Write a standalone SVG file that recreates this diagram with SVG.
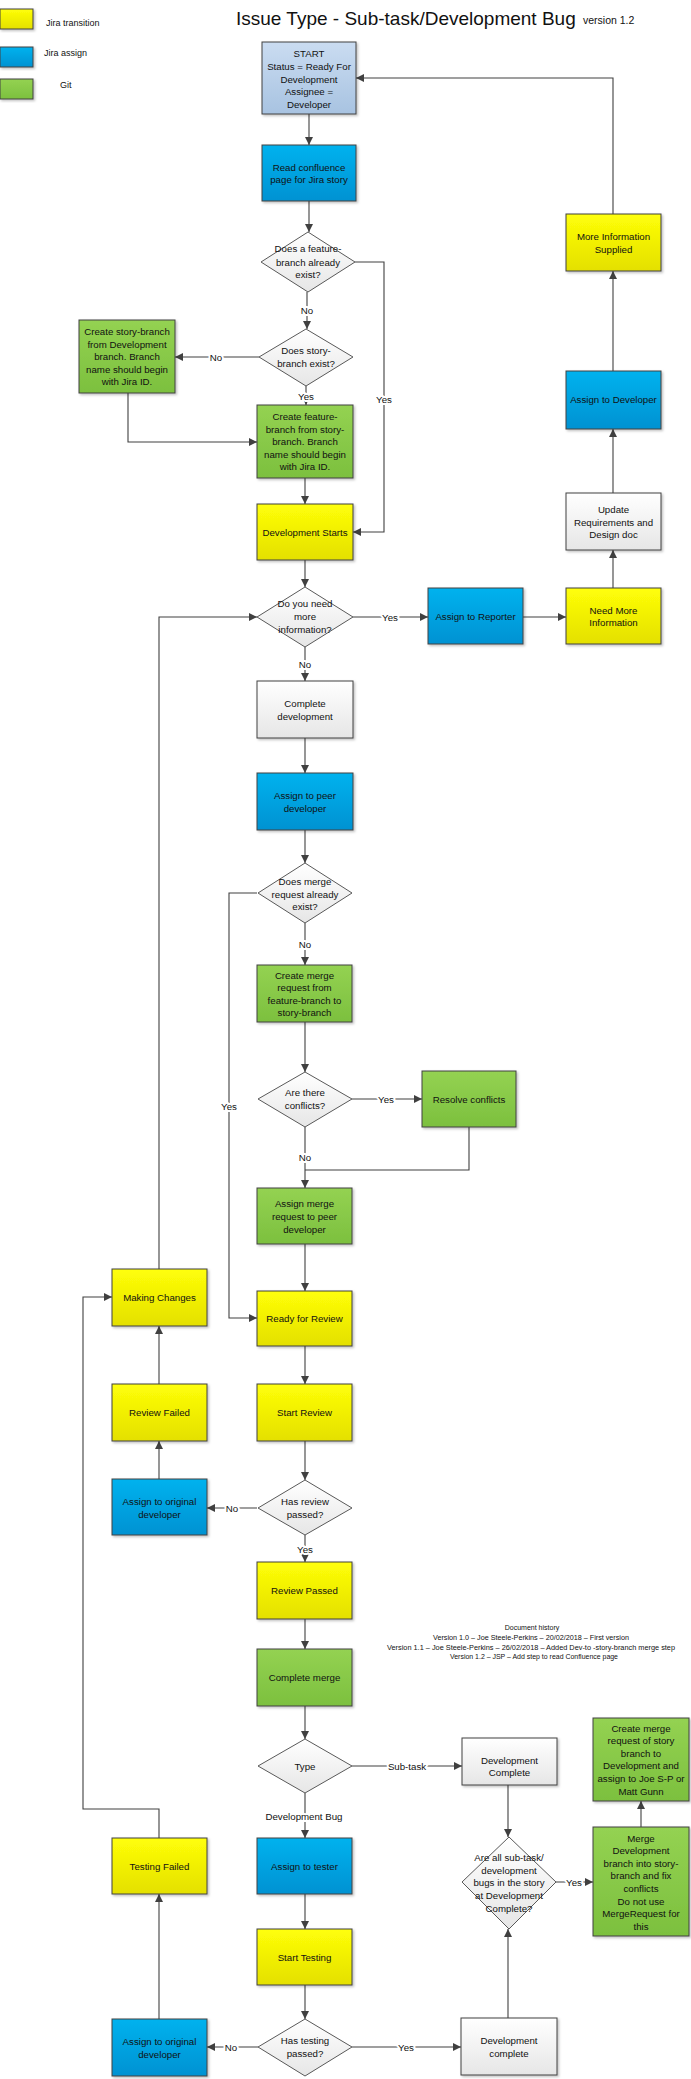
<svg xmlns="http://www.w3.org/2000/svg" width="691" height="2079" viewBox="0 0 691 2079">
<style>
text{font-family:"Liberation Sans",Arial,sans-serif;fill:#111}
.t{font-size:9.7px;text-anchor:middle;dominant-baseline:central}
.lbl{font-size:9.7px;text-anchor:middle;dominant-baseline:central;stroke:#fff;stroke-width:4px;paint-order:stroke;stroke-linejoin:round}
.box{stroke:#404040;stroke-width:1;filter:url(#sh)}
.dia{stroke:#595959;stroke-width:1;fill:url(#gW)}
.y{fill:url(#gY)}.b{fill:url(#gB)}.g{fill:url(#gG)}.w{fill:url(#gW)}.s{fill:url(#gS)}
.c{fill:none;stroke:#404040;stroke-width:1.1}
.a{marker-end:url(#ah)}
.leg{font-size:9px;dominant-baseline:central}
.hist{font-size:7px;text-anchor:middle;dominant-baseline:central}
</style>
<defs>
<linearGradient id="gY" x1="0" y1="0" x2="0" y2="1"><stop offset="0" stop-color="#ffff08"/><stop offset="1" stop-color="#e4e000"/></linearGradient>
<linearGradient id="gB" x1="0" y1="0" x2="0" y2="1"><stop offset="0" stop-color="#00b2ee"/><stop offset="1" stop-color="#0092d2"/></linearGradient>
<linearGradient id="gG" x1="0" y1="0" x2="0" y2="1"><stop offset="0" stop-color="#94d252"/><stop offset="1" stop-color="#7cc03e"/></linearGradient>
<linearGradient id="gW" x1="0" y1="0" x2="0" y2="1"><stop offset="0" stop-color="#ffffff"/><stop offset="1" stop-color="#e6e6e6"/></linearGradient>
<linearGradient id="gS" x1="0" y1="0" x2="0" y2="1"><stop offset="0" stop-color="#cadcf1"/><stop offset="1" stop-color="#a8c3e1"/></linearGradient>
<filter id="sh" x="-10%" y="-10%" width="130%" height="130%"><feDropShadow dx="1.5" dy="1.5" stdDeviation="0.8" flood-color="#000" flood-opacity="0.25"/></filter>
<marker id="ah" viewBox="0 0 10 10" refX="10" refY="5" markerWidth="9" markerHeight="8" markerUnits="userSpaceOnUse" orient="auto"><path d="M0,0 L10,5 L0,10 Z" fill="#404040"/></marker>
</defs>

<g id="legend">
<rect class="box y" x="0" y="9" width="33" height="20"/>
<text class="leg" x="46" y="23">Jira transition</text>
<rect class="box b" x="0" y="47" width="33" height="20"/>
<text class="leg" x="44" y="53">Jira assign</text>
<rect class="box g" x="0" y="79" width="33" height="20"/>
<text class="leg" x="60" y="85">Git</text>
</g>
<g id="title">
<text x="236" y="25" font-size="19" fill="#222">Issue Type - Sub-task/Development Bug</text>
<text x="583" y="24" font-size="10.5" fill="#222">version 1.2</text>
</g>

<g id="connectors">
<path class="c a" d="M309,114 V145"/>
<path class="c a" d="M309,201 V232"/>
<path class="c a" d="M307,292 V329"/>
<path class="c a" d="M355,262 H384 V532 H353"/>
<path class="c a" d="M259,357 H175"/>
<path class="c a" d="M128,393 V442 H257"/>
<path class="c a" d="M306,386 V405"/>
<path class="c a" d="M305,478 V504"/>
<path class="c a" d="M305,560 V587"/>
<path class="c a" d="M353,617 H428"/>
<path class="c a" d="M523,617 H566"/>
<path class="c a" d="M613,588 V550"/>
<path class="c a" d="M613,493 V429"/>
<path class="c a" d="M613,371 V271"/>
<path class="c a" d="M613,214 V78 H356"/>
<path class="c a" d="M159,1269 V617 H257"/>
<path class="c a" d="M305,647 V681"/>
<path class="c a" d="M305,738 V773"/>
<path class="c a" d="M305,830 V863"/>
<path class="c a" d="M257,893 H229 V1318 H257"/>
<path class="c a" d="M305,923 V965"/>
<path class="c a" d="M305,1022 V1072"/>
<path class="c a" d="M352,1099 H422"/>
<path class="c" d="M469,1127 V1170 H305"/>
<path class="c a" d="M305,1127 V1188"/>
<path class="c a" d="M305,1244 V1291"/>
<path class="c a" d="M305,1346 V1384"/>
<path class="c a" d="M305,1441 V1480"/>
<path class="c a" d="M257,1508 H207"/>
<path class="c a" d="M159,1479 V1441"/>
<path class="c a" d="M159,1384 V1326"/>
<path class="c a" d="M305,1535 V1562"/>
<path class="c a" d="M305,1619 V1649"/>
<path class="c a" d="M305,1706 V1739"/>
<path class="c a" d="M352,1766 H462"/>
<path class="c a" d="M508,1785 V1837"/>
<path class="c a" d="M556,1882 H593"/>
<path class="c a" d="M641,1827 V1801"/>
<path class="c a" d="M305,1793 V1838"/>
<path class="c a" d="M305,1894 V1929"/>
<path class="c a" d="M305,1985 V2019"/>
<path class="c a" d="M258,2047 H207"/>
<path class="c a" d="M159,2019 V1894"/>
<path class="c a" d="M159,1838 V1809 H83 V1297 H112"/>
<path class="c a" d="M352,2047 H461"/>
<path class="c a" d="M508,2018 V1929"/>
<text class="lbl" x="307" y="310">No</text>
<text class="lbl" x="384" y="399">Yes</text>
<text class="lbl" x="216" y="357">No</text>
<text class="lbl" x="306" y="396">Yes</text>
<text class="lbl" x="390" y="617">Yes</text>
<text class="lbl" x="305" y="664">No</text>
<text class="lbl" x="229" y="1106">Yes</text>
<text class="lbl" x="305" y="944">No</text>
<text class="lbl" x="386" y="1099">Yes</text>
<text class="lbl" x="305" y="1157">No</text>
<text class="lbl" x="232" y="1508">No</text>
<text class="lbl" x="305" y="1549">Yes</text>
<text class="lbl" x="407" y="1766">Sub-task</text>
<text class="lbl" x="304" y="1816">Development Bug</text>
<text class="lbl" x="574" y="1882">Yes</text>
<text class="lbl" x="231" y="2047">No</text>
<text class="lbl" x="406" y="2047">Yes</text>
</g>

<g id="start"><rect class="box s" x="262" y="42" width="94" height="72"/>
<text class="t"><tspan x="309" y="53">START</tspan><tspan x="309" y="65.7">Status = Ready For</tspan><tspan x="309" y="78.5">Development</tspan><tspan x="309" y="91.3">Assignee =</tspan><tspan x="309" y="104">Developer</tspan></text></g>

<g id="read-confluence"><rect class="box b" x="262" y="145" width="94" height="56"/>
<text class="t"><tspan x="309" y="166.5">Read confluence</tspan><tspan x="309" y="179.2">page for Jira story</tspan></text></g>

<g id="feature-exists"><path class="dia" d="M308,232 L355,262 L308,292 L261,262 Z"/>
<text class="t"><tspan x="308" y="248">Does a feature-</tspan><tspan x="308" y="261.5">branch already</tspan><tspan x="308" y="274">exist?</tspan></text></g>

<g id="story-exists"><path class="dia" d="M306,329 L353,357 L306,386 L259,357 Z"/>
<text class="t"><tspan x="306" y="350">Does story-</tspan><tspan x="306" y="363">branch exist?</tspan></text></g>

<g id="create-story-branch"><rect class="box g" x="79" y="320" width="96" height="73"/>
<text class="t"><tspan x="127" y="331">Create story-branch</tspan><tspan x="127" y="343.6">from Development</tspan><tspan x="127" y="356.2">branch. Branch</tspan><tspan x="127" y="368.8">name should begin</tspan><tspan x="127" y="381.4">with Jira ID.</tspan></text></g>

<g id="create-feature-branch"><rect class="box g" x="257" y="405" width="96" height="73"/>
<text class="t"><tspan x="305" y="416">Create feature-</tspan><tspan x="305" y="428.6">branch from story-</tspan><tspan x="305" y="441.2">branch. Branch</tspan><tspan x="305" y="453.8">name should begin</tspan><tspan x="305" y="466.4">with Jira ID.</tspan></text></g>

<g id="development-starts"><rect class="box y" x="257" y="504" width="96" height="56"/>
<text class="t" x="305" y="532">Development Starts</text></g>

<g id="need-more-info"><path class="dia" d="M305,587 L353,617 L305,647 L257,617 Z"/>
<text class="t"><tspan x="305" y="603">Do you need</tspan><tspan x="305" y="616">more</tspan><tspan x="305" y="629">information?</tspan></text></g>

<g id="assign-reporter"><rect class="box b" x="428" y="588" width="95" height="56"/>
<text class="t" x="475.5" y="616">Assign to Reporter</text></g>

<g id="need-more-information"><rect class="box y" x="566" y="588" width="95" height="56"/>
<text class="t"><tspan x="613.5" y="609.5">Need More</tspan><tspan x="613.5" y="622.2">Information</tspan></text></g>

<g id="update-requirements"><rect class="box w" x="566" y="493" width="95" height="57"/>
<text class="t"><tspan x="613.5" y="509">Update</tspan><tspan x="613.5" y="521.6">Requirements and</tspan><tspan x="613.5" y="534.2">Design doc</tspan></text></g>

<g id="assign-developer"><rect class="box b" x="566" y="371" width="95" height="58"/>
<text class="t" x="613.5" y="399">Assign to Developer</text></g>

<g id="more-info-supplied"><rect class="box y" x="566" y="214" width="95" height="57"/>
<text class="t"><tspan x="613.5" y="236">More Information</tspan><tspan x="613.5" y="248.7">Supplied</tspan></text></g>

<g id="complete-development"><rect class="box w" x="257" y="681" width="96" height="57"/>
<text class="t"><tspan x="305" y="703">Complete</tspan><tspan x="305" y="715.7">development</tspan></text></g>

<g id="assign-peer"><rect class="box b" x="257" y="773" width="96" height="57"/>
<text class="t"><tspan x="305" y="795">Assign to peer</tspan><tspan x="305" y="807.7">developer</tspan></text></g>

<g id="merge-request-exists"><path class="dia" d="M305,863 L352,893 L305,923 L258,893 Z"/>
<text class="t"><tspan x="305" y="881">Does merge</tspan><tspan x="305" y="893.5">request already</tspan><tspan x="305" y="906">exist?</tspan></text></g>

<g id="create-merge-request"><rect class="box g" x="257" y="965" width="95" height="57"/>
<text class="t"><tspan x="304.5" y="974.5">Create merge</tspan><tspan x="304.5" y="987">request from</tspan><tspan x="304.5" y="999.5">feature-branch to</tspan><tspan x="304.5" y="1012">story-branch</tspan></text></g>

<g id="conflicts"><path class="dia" d="M305,1072 L352,1099 L305,1127 L258,1099 Z"/>
<text class="t"><tspan x="305" y="1092">Are there</tspan><tspan x="305" y="1105">conflicts?</tspan></text></g>

<g id="resolve-conflicts"><rect class="box g" x="422" y="1071" width="94" height="56"/>
<text class="t" x="469" y="1099">Resolve conflicts</text></g>

<g id="assign-merge-request"><rect class="box g" x="257" y="1188" width="95" height="56"/>
<text class="t"><tspan x="304.5" y="1203">Assign merge</tspan><tspan x="304.5" y="1216">request to peer</tspan><tspan x="304.5" y="1229">developer</tspan></text></g>

<g id="ready-for-review"><rect class="box y" x="257" y="1291" width="95" height="55"/>
<text class="t" x="304.5" y="1318">Ready for Review</text></g>

<g id="start-review"><rect class="box y" x="257" y="1384" width="95" height="57"/>
<text class="t" x="304.5" y="1412">Start Review</text></g>

<g id="review-passed-q"><path class="dia" d="M305,1480 L352,1508 L305,1535 L258,1508 Z"/>
<text class="t"><tspan x="305" y="1501">Has review</tspan><tspan x="305" y="1513.5">passed?</tspan></text></g>

<g id="assign-original-1"><rect class="box b" x="112" y="1479" width="95" height="56"/>
<text class="t"><tspan x="159.5" y="1501">Assign to original</tspan><tspan x="159.5" y="1513.5">developer</tspan></text></g>

<g id="review-failed"><rect class="box y" x="112" y="1384" width="95" height="57"/>
<text class="t" x="159.5" y="1412">Review Failed</text></g>

<g id="making-changes"><rect class="box y" x="112" y="1269" width="95" height="57"/>
<text class="t" x="159.5" y="1297">Making Changes</text></g>

<g id="review-passed"><rect class="box y" x="257" y="1562" width="95" height="57"/>
<text class="t" x="304.5" y="1590">Review Passed</text></g>

<g id="complete-merge"><rect class="box g" x="257" y="1649" width="95" height="57"/>
<text class="t" x="304.5" y="1677">Complete merge</text></g>

<g id="type"><path class="dia" d="M305,1739 L352,1766 L305,1793 L258,1766 Z"/>
<text class="t" x="305" y="1766">Type</text></g>

<g id="development-complete-1"><rect class="box w" x="462" y="1738" width="95" height="47"/>
<text class="t"><tspan x="509.5" y="1759.5">Development</tspan><tspan x="509.5" y="1772">Complete</tspan></text></g>

<g id="all-subtasks-complete"><path class="dia" d="M509,1837 L556,1882 L509,1929 L462,1882 Z"/>
<text class="t"><tspan x="509" y="1857">Are all sub-task/</tspan><tspan x="509" y="1869.7">development</tspan><tspan x="509" y="1882.4">bugs in the story</tspan><tspan x="509" y="1895.1">at Development</tspan><tspan x="509" y="1907.8">Complete?</tspan></text></g>

<g id="merge-development"><rect class="box g" x="593" y="1827" width="96" height="109"/>
<text class="t"><tspan x="641" y="1837.5">Merge</tspan><tspan x="641" y="1850.1">Development</tspan><tspan x="641" y="1862.7">branch into story-</tspan><tspan x="641" y="1875.3">branch and fix</tspan><tspan x="641" y="1887.9">conflicts</tspan><tspan x="641" y="1900.5">Do not use</tspan><tspan x="641" y="1913.1">MergeRequest for</tspan><tspan x="641" y="1925.7">this</tspan></text></g>

<g id="create-story-merge-request"><rect class="box g" x="593" y="1718" width="96" height="83"/>
<text class="t"><tspan x="641" y="1727.5">Create merge</tspan><tspan x="641" y="1740.1">request of story</tspan><tspan x="641" y="1752.7">branch to</tspan><tspan x="641" y="1765.3">Development and</tspan><tspan x="641" y="1777.9">assign to Joe S-P or</tspan><tspan x="641" y="1790.5">Matt Gunn</tspan></text></g>

<g id="assign-tester"><rect class="box b" x="257" y="1838" width="95" height="56"/>
<text class="t" x="304.5" y="1866">Assign to tester</text></g>

<g id="start-testing"><rect class="box y" x="257" y="1929" width="95" height="56"/>
<text class="t" x="304.5" y="1957">Start Testing</text></g>

<g id="testing-passed-q"><path class="dia" d="M305,2019 L352,2047 L305,2076 L258,2047 Z"/>
<text class="t"><tspan x="305" y="2040">Has testing</tspan><tspan x="305" y="2053">passed?</tspan></text></g>

<g id="assign-original-2"><rect class="box b" x="112" y="2019" width="95" height="57"/>
<text class="t"><tspan x="159.5" y="2041">Assign to original</tspan><tspan x="159.5" y="2054">developer</tspan></text></g>

<g id="testing-failed"><rect class="box y" x="112" y="1838" width="95" height="56"/>
<text class="t" x="159.5" y="1866">Testing Failed</text></g>

<g id="development-complete-2"><rect class="box w" x="461" y="2018" width="96" height="57"/>
<text class="t"><tspan x="509" y="2040">Development</tspan><tspan x="509" y="2053">complete</tspan></text></g>

<g id="document-history">
<text class="hist" x="532" y="1627">Document history</text>
<text class="hist" x="531" y="1637" textLength="196" lengthAdjust="spacingAndGlyphs">Version 1.0 – Joe Steele-Perkins – 20/02/2018 – First version</text>
<text class="hist" x="531" y="1647" textLength="288" lengthAdjust="spacingAndGlyphs">Version 1.1 – Joe Steele-Perkins – 26/02/2018 – Added Dev-to -story-branch merge step</text>
<text class="hist" x="534" y="1656" textLength="168" lengthAdjust="spacingAndGlyphs">Version 1.2 – JSP – Add step to read Confluence page</text>
</g>
</svg>
